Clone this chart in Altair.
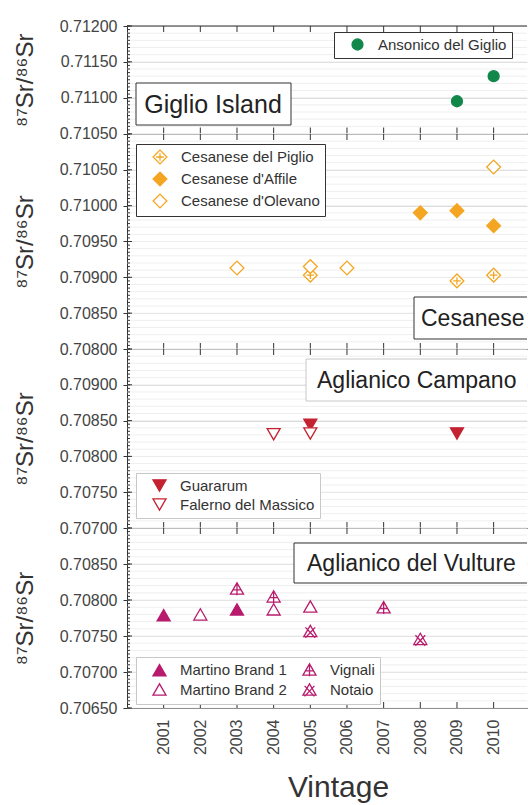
import altair as alt
import pandas as pd

FONT = "Liberation Sans"
INK = "#333333"
W = 400
X_DOMAIN = [2000, 2010.91]
years = list(range(2001, 2011))

# ---- Giglio Island ----
ansonico_year = [2009, 2010]
ansonico_sr = [0.71095, 0.71130]

# ---- Cesanese ----
piglio_year = [2005, 2009, 2010]
piglio_sr = [0.70903, 0.70895, 0.70903]
affile_year = [2008, 2009, 2010]
affile_sr = [0.70990, 0.70993, 0.70972]
olevano_year = [2003, 2005, 2006, 2010]
olevano_sr = [0.70913, 0.70915, 0.70913, 0.71054]

# ---- Aglianico Campano ----
guararum_year = [2005, 2009]
guararum_sr = [0.70844, 0.70832]
falerno_year = [2004, 2005]
falerno_sr = [0.70831, 0.70832]

# ---- Aglianico del Vulture ----
mb1_year = [2001, 2003]
mb1_sr = [0.70779, 0.70787]
mb2_year = [2002, 2004, 2005]
mb2_sr = [0.70780, 0.70787, 0.70791]
vignali_year = [2003, 2004, 2007]
vignali_sr = [0.70816, 0.70805, 0.70790]
notaio_year = [2005, 2008]
notaio_sr = [0.70757, 0.70746]

# symbol paths (unit square -1..1)
DIAMOND_PLUS = "M-1,0L0,-1L1,0L0,1Z M-0.55,0L0.55,0 M0,-0.55L0,0.55"
TRI_PLUS = "M0,-0.866L1,0.866L-1,0.866Z M0,-0.866L0,1.05 M-0.65,0.2L0.65,0.2"
TRI_CROSS = "M0,-0.866L1,0.866L-1,0.866Z M-0.75,-0.55L0.75,1.05 M0.75,-0.55L-0.75,1.05"


def frame(series_list):
    rows = []
    for name, yrs, vals in series_list:
        for yr, v in zip(yrs, vals):
            rows.append({"series": name, "year": yr, "sr": v})
    return pd.DataFrame(rows)


def panel(df, domain, height, label_values, names, shapes, fills, color, size,
          legend_pos, legend_stroke, legend_cols, box, bottom=False, top_line=False):
    lo, hi = domain
    n_minor = int(round((hi - lo) / 0.00005))
    minor = pd.DataFrame({"v": [round(lo + i * 0.00005, 6) for i in range(n_minor + 1)]})
    minor["major"] = [abs(v * 2000 - round(v * 2000)) < 1e-6 for v in minor["v"]]
    minor["grid"] = [abs(v * 10000 - round(v * 10000)) < 1e-6 for v in minor["v"]]

    xs = alt.Scale(domain=X_DOMAIN, nice=False, zero=False)
    ys = alt.Scale(domain=[lo, hi], nice=False, zero=False)

    xaxis = alt.Axis(
        values=years, format="d", labels=bottom, ticks=False, grid=False,
        domain=True, domainColor=INK, domainWidth=1,
        title="Vintage" if bottom else None,
        labelAngle=270, labelFont=FONT, labelFontSize=16, labelColor="#444",
        labelPadding=11, titleFont=FONT, titleFontSize=30, titleFontWeight="normal",
        titleColor=INK, titlePadding=18, titleX=211,
    )
    yaxis = alt.Axis(
        values=label_values, format=".5f", title="⁸⁷Sr/⁸⁶Sr",
        titleFont=FONT, titleFontSize=24, titleFontWeight="normal", titleColor=INK,
        titlePadding=22,
        labelFont=FONT, labelFontSize=16, labelColor="#444", labelPadding=6,
        labelFlush=False, labelOverlap=False,
        tickSize=4, tickColor=INK, domainColor=INK,
        grid=True, gridColor="#d9d9d9",
    )

    leg = alt.Legend(
        title=None, orient="none", legendX=legend_pos[0], legendY=legend_pos[1],
        strokeColor=legend_stroke, fillColor="white", padding=5,
        labelFont=FONT, labelFontSize=15, labelColor=INK,
        symbolOffset=11, labelOffset=13,
        symbolSize=size, symbolStrokeWidth=1.3, rowPadding=2,
        columns=legend_cols, columnPadding=4,
    )

    X = lambda f: alt.X(f, scale=xs, axis=xaxis)
    Y = lambda f: alt.Y(f, scale=ys, axis=yaxis)

    points = alt.Chart(df).mark_point(opacity=1, strokeWidth=1.3, size=size).encode(
        x=X("year:Q"),
        y=Y("sr:Q"),
        shape=alt.Shape("series:N", scale=alt.Scale(domain=names, range=shapes), legend=leg),
        color=alt.Color("series:N", scale=alt.Scale(domain=names, range=[color] * len(names)), legend=leg),
        fill=alt.Fill("series:N", scale=alt.Scale(domain=names, range=fills), legend=leg),
        order=alt.Order("idx:Q"),
    ).transform_window(idx="row_number()")

    minor_grid = alt.Chart(minor[minor["grid"]]).mark_rule(color="#efefef", strokeWidth=1).encode(
        x=alt.value(0), x2=alt.value(W), y=Y("v:Q")
    )
    ytick_minor = alt.Chart(minor).mark_rule(color=INK, strokeWidth=1).encode(
        x=alt.value(0), x2=alt.value(3), y=Y("v:Q")
    )
    ytick_major = alt.Chart(minor[minor["major"]]).mark_rule(color=INK, strokeWidth=1).encode(
        x=alt.value(0), x2=alt.value(5), y=Y("v:Q")
    )
    yr_df = pd.DataFrame({"year": years})
    xtick_top = alt.Chart(yr_df).mark_rule(color=INK).encode(
        x=X("year:Q"), y=alt.value(0), y2=alt.value(6)
    )
    xtick_bot = alt.Chart(yr_df).mark_rule(color=INK).encode(
        x=X("year:Q"), y=alt.value(height - 6), y2=alt.value(height)
    )

    label, bx, by, bx2, by2, tx, talign, bstroke, fsize = box
    box_df = pd.DataFrame({"label": [label]})
    rect = alt.Chart(box_df).mark_rect(fill="white", stroke=bstroke, strokeWidth=1, clip=True).encode(
        x=alt.value(bx), x2=alt.value(bx2), y=alt.value(by), y2=alt.value(by2)
    )
    text = alt.Chart(box_df).mark_text(
        font=FONT, fontSize=fsize, color="#222", align=talign, baseline="middle"
    ).encode(x=alt.value(tx), y=alt.value((by + by2) / 2 + 1), text="label:N")

    layers = [minor_grid, ytick_minor, ytick_major, xtick_top, xtick_bot]
    if top_line:
        layers.append(
            alt.Chart(yr_df.head(1)).mark_rule(color=INK).encode(
                x=alt.value(0), x2=alt.value(W), y=alt.value(0)
            )
        )
    layers += [points, rect, text]
    return alt.layer(*layers).properties(width=W, height=height)


GREEN = "#11884a"
ORANGE = "#f4a622"
RED = "#c42230"
MAGENTA = "#b81a6c"

giglio = panel(
    frame([("Ansonico del Giglio", ansonico_year, ansonico_sr)]),
    (0.7105, 0.7120), 107.5, [0.7105, 0.7110, 0.7115, 0.7120],
    ["Ansonico del Giglio"], ["circle"], [GREEN], GREEN, 120,
    (207, 6), INK, 1,
    ("Giglio Island", 9, 57, 164, 99, 86, "center", INK, 25),
    top_line=True,
)

cesanese = panel(
    frame([
        ("Cesanese del Piglio", piglio_year, piglio_sr),
        ("Cesanese d'Affile", affile_year, affile_sr),
        ("Cesanese d'Olevano", olevano_year, olevano_sr),
    ]),
    (0.7080, 0.7110), 215, [0.7080, 0.7085, 0.7090, 0.7095, 0.7100, 0.7105],
    ["Cesanese del Piglio", "Cesanese d'Affile", "Cesanese d'Olevano"],
    [DIAMOND_PLUS, "diamond", "diamond"], ["white", ORANGE, "white"], ORANGE, 190,
    (9, 10), INK, 1,
    ("Cesanese", 287, 163, W + 20, 205, 294, "left", INK, 23),
)

campano = panel(
    frame([
        ("Guararum", guararum_year, guararum_sr),
        ("Falerno del Massico", falerno_year, falerno_sr),
    ]),
    (0.7070, 0.7095), 179, [0.7070, 0.7075, 0.7080, 0.7085, 0.7090],
    ["Guararum", "Falerno del Massico"],
    ["triangle-down", "triangle-down"], [RED, "white"], RED, 170,
    (9, 124), "#c8c8c8", 1,
    ("Aglianico Campano", 179, 10, W + 20, 52, 190, "left", "#c8c8c8", 23),
)

vulture = panel(
    frame([
        ("Martino Brand 1", mb1_year, mb1_sr),
        ("Martino Brand 2", mb2_year, mb2_sr),
        ("Vignali", vignali_year, vignali_sr),
        ("Notaio", notaio_year, notaio_sr),
    ]),
    (0.7065, 0.7090), 180, [0.7065, 0.7070, 0.7075, 0.7080, 0.7085],
    ["Martino Brand 1", "Martino Brand 2", "Vignali", "Notaio"],
    ["triangle-up", "triangle-up", TRI_PLUS, TRI_CROSS],
    [MAGENTA, "white", "white", "white"], MAGENTA, 170,
    (9, 129), "#c8c8c8", 2,
    ("Aglianico del Vulture", 167, 15, W + 20, 55, 180, "left", INK, 23),
    bottom=True,
)

chart = alt.vconcat(giglio, cesanese, campano, vulture, spacing=0, bounds="flush").resolve_scale(
    x="independent", y="independent", shape="independent", color="independent", fill="independent"
).resolve_legend(
    shape="independent", color="independent", fill="independent"
).properties(
    padding={"left": 13, "top": 18, "right": 0, "bottom": 0}, background="white"
).configure_view(stroke=None)

chart.save("out.html", embed_options={"renderer": "svg", "actions": False})
